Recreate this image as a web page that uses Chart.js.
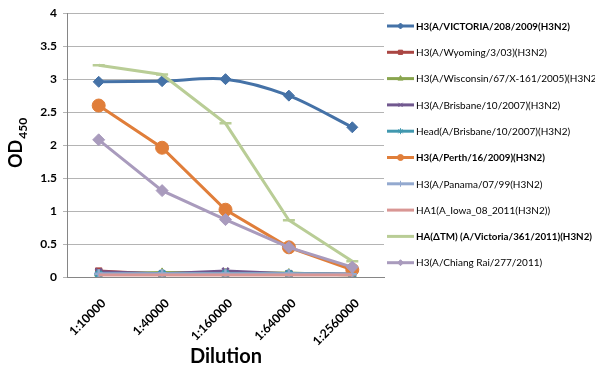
<!DOCTYPE html>
<html>
<head>
<meta charset="utf-8">
<script src="https://cdn.jsdelivr.net/npm/chart.js@4.4.1/dist/chart.umd.min.js"></script>
<style>
  html, body { margin: 0; padding: 0; background: #fff; }
  #wrap { width: 595px; height: 377px; position: relative; }
</style>
</head>
<body>
<div id="wrap"><canvas id="odChart"></canvas></div>
<script>
const dilutions = ['1:10000', '1:40000', '1:160000', '1:640000', '1:2560000'];
const yTicks = [0, 0.5, 1, 1.5, 2, 2.5, 3, 3.5, 4];

const seriesNames = [
    'H3(A/VICTORIA/208/2009(H3N2)',
    'H3(A/Wyoming/3/03)(H3N2)',
    'H3(A/Wisconsin/67/X-161/2005)(H3N2)',
    'H3(A/Brisbane/10/2007)(H3N2)',
    'Head(A/Brisbane/10/2007)(H3N2)',
    'H3(A/Perth/16/2009)(H3N2)',
    'H3(A/Panama/07/99(H3N2)',
    'HA1(A_Iowa_08_2011(H3N2))',
    'HA(\u0394TM) (A/Victoria/361/2011)(H3N2)',
    'H3(A/Chiang Rai/277/2011)'
];
const boldSeries = [0, 5, 8];

const victoria208 = [2.96, 2.97, 3.0, 2.75, 2.27];
const wyoming = [0.09, 0.04, 0.04, 0.05, 0.04];
const wisconsin = [0.05, 0.07, 0.06, 0.06, 0.03];
const brisbane = [0.08, 0.05, 0.09, 0.05, 0.04];
const headBrisbane = [0.04, 0.05, 0.05, 0.05, 0.04];
const perth = [2.6, 1.96, 1.02, 0.45, 0.11];
const panama = [0.05, 0.05, 0.05, 0.05, 0.04];
const iowa = [0.03, 0.03, 0.03, 0.03, 0.03];
const victoria361 = [3.21, 3.07, 2.33, 0.86, 0.24];
const chiangRai = [2.08, 1.31, 0.87, 0.45, 0.15];

const seriesValues = [victoria208, wyoming, wisconsin, brisbane, headBrisbane,
    perth, panama, iowa, victoria361, chiangRai];

const colors = ['#4572A7', '#AA4643', '#89A54E', '#71588F', '#4198AF',
    '#E07E3A', '#93A9CF', '#D99694', '#B9CD96', '#A99BBD'];
const markers = ['rectRot', 'rect', 'triangle', 'crossRot', 'star',
    'circle', 'cross', false, 'line', 'rectRot'];
const markerSizes = [5.5, 4.5, 4.5, 4.5, 4.5, 6.5, 4.5, 0, 6, 6];

const fontFamily = 'Lato, "Liberation Sans", sans-serif';

const datasets = seriesValues.map((values, i) => ({
    label: seriesNames[i],
    data: values,
    borderColor: colors[i],
    backgroundColor: colors[i],
    borderWidth: 3,
    pointStyle: markers[i],
    pointRadius: markerSizes[i],
    pointBorderWidth: ['line', 'crossRot', 'cross', 'star'].includes(markers[i]) ? 2.5 : 1,
    pointBackgroundColor: colors[i],
    pointBorderColor: colors[i],
    tension: i === 0 ? 0.3 : 0,
    order: -i
}));

const titlesAndLegend = {
    id: 'titlesAndLegend',
    afterDraw(chart) {
        const ctx = chart.ctx;
        ctx.save();

        // y axis title with subscript
        ctx.fillStyle = '#000';
        ctx.translate(16, 168);
        ctx.rotate(-Math.PI / 2);
        ctx.textAlign = 'left';
        ctx.textBaseline = 'middle';
        ctx.font = 'bold 18px ' + fontFamily;
        ctx.fillText('OD', 0, 0);
        const odWidth = ctx.measureText('OD').width;
        ctx.font = 'bold 12px ' + fontFamily;
        ctx.fillText('450', odWidth + 1, 7);
        ctx.setTransform(1, 0, 0, 1, 0, 0);

        // x axis title
        ctx.font = 'bold 20px ' + fontFamily;
        ctx.textAlign = 'center';
        ctx.textBaseline = 'middle';
        ctx.fillText('Dilution', 226, 357);

        // legend
        seriesNames.forEach((name, i) => {
            const y = 26 + i * 26.3;
            ctx.strokeStyle = colors[i];
            ctx.fillStyle = colors[i];
            ctx.lineWidth = 3;
            ctx.beginPath();
            ctx.moveTo(387, y);
            ctx.lineTo(414, y);
            ctx.stroke();
            if (markers[i] && markers[i] !== 'line') {
                ctx.lineWidth = 1;
                Chart.helpers.drawPoint(ctx, {
                    pointStyle: markers[i],
                    radius: 3,
                    rotation: 0,
                    borderWidth: 1
                }, 400.5, y);
            }
            const bold = boldSeries.includes(i);
            ctx.fillStyle = '#000';
            ctx.textAlign = 'left';
            ctx.font = (bold ? 'bold 9.8px ' : '10px ') + fontFamily;
            ctx.fillText(name, 416, y + 0.5);
        });

        ctx.restore();
    }
};

const ctx = document.getElementById('odChart').getContext('2d');
new Chart(ctx, {
    type: 'line',
    data: {
        labels: dilutions,
        datasets: datasets
    },
    options: {
        responsive: true,
        maintainAspectRatio: false,
        animation: false,
        layout: {
            padding: { left: 0, right: 211, top: 12, bottom: 0 }
        },
        plugins: {
            legend: { display: false },
            tooltip: { enabled: false }
        },
        scales: {
            x: {
                offset: true,
                grid: { display: false, offset: true },
                border: { display: true, color: '#868686', width: 1 },
                ticks: {
                    color: '#000',
                    font: { family: fontFamily, size: 12.2, weight: 'bold' },
                    minRotation: 45,
                    maxRotation: 45,
                    padding: 11,
                    labelOffset: 5
                },
                afterFit(scale) { scale.height = 100; }
            },
            y: {
                min: 0,
                max: 4,
                afterBuildTicks(scale) {
                    scale.ticks = yTicks.map(v => ({ value: v }));
                },
                grid: { color: '#b4b4b4', lineWidth: 1, tickLength: 4 },
                border: { display: true, color: '#868686', width: 1 },
                ticks: {
                    color: '#000',
                    font: { family: fontFamily, size: 12, weight: 'bold' },
                    padding: 6,
                    callback: v => String(v)
                },
                afterFit(scale) { scale.width = 67; }
            }
        }
    },
    plugins: [titlesAndLegend]
});
</script>
</body>
</html>
